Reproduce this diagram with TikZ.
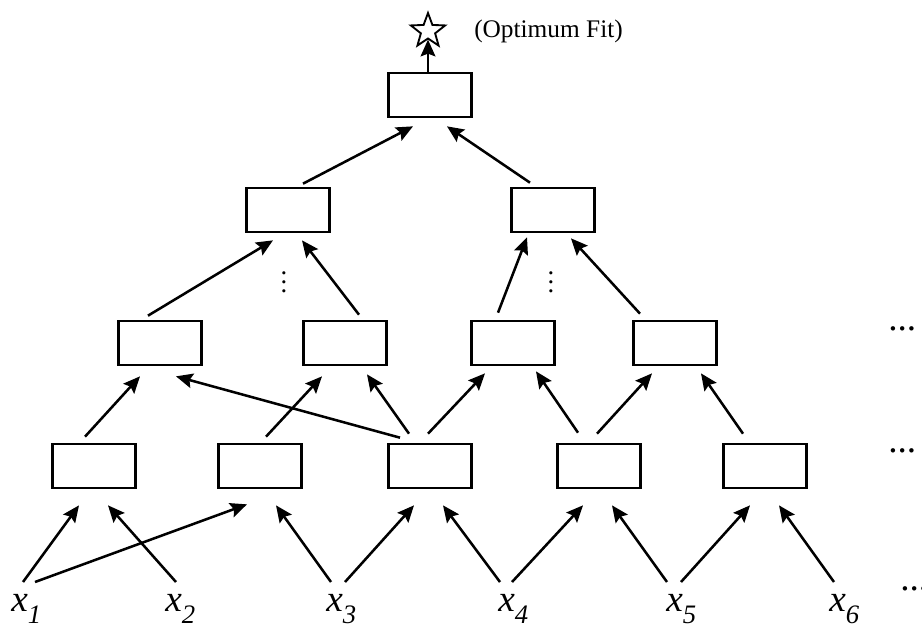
\documentclass[tikz,border=0pt]{standalone}
\usepackage{fontspec}
\setmainfont{Liberation Serif}
\usetikzlibrary{arrows.meta,calc,shapes.geometric}

\newcommand{\xin}[1]{\textit{x}\raisebox{-9pt}{\fontsize{20}{20}\selectfont\textit{#1}}}

\begin{document}
\begin{tikzpicture}[
    x=0.75pt, y=-0.75pt,
    box/.style={rectangle, draw, line width=2pt, minimum width=62pt, minimum height=33pt},
    arrow/.style={-{Stealth[length=12.5pt, width=11pt, inset=2pt]}, line width=1.9pt},
    invar/.style={anchor=base west, inner sep=0pt, font=\fontsize{28}{30}\selectfont},
    hdots/.style={anchor=base west, inner sep=0pt, font=\fontsize{28}{30}\selectfont},
    vdots/.style={inner sep=0pt, align=center, font=\fontsize{20}{6.75}\selectfont}
]
\useasboundingbox (0,0) rectangle (922,626);

% boxes
\node[box] (top) at (430,95) {};
\node[box] (b21) at (288,210) {};
\node[box] (b22) at (553,210) {};
\node[box] (b31) at (160,343) {};
\node[box] (b32) at (345,343) {};
\node[box] (b33) at (513,343) {};
\node[box] (b34) at (675,343) {};
\node[box] (b41) at (94,466) {};
\node[box] (b42) at (260,466) {};
\node[box] (b43) at (430,466) {};
\node[box] (b44) at (599,466) {};
\node[box] (b45) at (765,466) {};

% inputs
\node[invar] (x1) at (11,611) {\xin{1}};
\node[invar] (x2) at (165,611) {\xin{2}};
\node[invar] (x3) at (326,611) {\xin{3}};
\node[invar] (x4) at (498,611) {\xin{4}};
\node[invar] (x5) at (666,611) {\xin{5}};
\node[invar] (x6) at (829,611) {\xin{6}};

% optimum
\node[star, star points=5, star point ratio=2.4, draw, line width=1.4pt, minimum size=27pt, inner sep=0pt] (star) at (428,31) {};
\node[anchor=base west, inner sep=0pt, font=\fontsize{19}{22}\selectfont] (fit) at (474,37) {(Optimum Fit)};

% dots
\node[vdots] (vd1) at (284,282) {.\\.\\.};
\node[vdots] (vd2) at (551,282) {.\\.\\.};
\node[hdots] (hd1) at (888,330) {...};
\node[hdots] (hd2) at (888,452) {...};
\node[hdots] (hd3) at (900,590) {...};

% inputs to first layer
\draw[arrow] ($(x1.base west)+(12,-29)$) -- ($(b41.south)+(-15,16)$);
\draw[arrow] ($(x2.base west)+(11,-29)$) -- ($(b41.south)+(14,16)$);
\draw[arrow] ($(x1.base west)+(24,-29)$) -- ($(b42.south)+(-13,15)$);
\draw[arrow] ($(x3.base west)+(5,-29)$) -- ($(b42.south)+(16,16)$);
\draw[arrow] ($(x3.base west)+(19,-29)$) -- ($(b43.south)+(-16,16)$);
\draw[arrow] ($(x4.base west)+(2,-29)$) -- ($(b43.south)+(13,16)$);
\draw[arrow] ($(x4.base west)+(14,-29)$) -- ($(b44.south)+(-16,16)$);
\draw[arrow] ($(x5.base west)+(1,-29)$) -- ($(b44.south)+(13,16)$);
\draw[arrow] ($(x5.base west)+(15,-29)$) -- ($(b45.south)+(-15,16)$);
\draw[arrow] ($(x6.base west)+(5,-29)$) -- ($(b45.south)+(14,16)$);

% first layer to second
\draw[arrow] ($(b41.north)+(-9,-6)$) -- ($(b31.south)+(-20,10)$);
\draw[arrow] ($(b42.north)+(6,-6)$) -- ($(b32.south)+(-23,10)$);
\draw[arrow] ($(b43.north)+(-30,-5)$) -- ($(b31.south)+(16,10)$);
\draw[arrow] ($(b43.north)+(-21,-9)$) -- ($(b32.south)+(22,8)$);
\draw[arrow] ($(b43.north)+(-2,-9)$) -- ($(b33.south)+(-28,7)$);
\draw[arrow] ($(b44.north)+(-21,-10)$) -- ($(b33.south)+(23,5)$);
\draw[arrow] ($(b44.north)+(-2,-9)$) -- ($(b34.south)+(-23,7)$);
\draw[arrow] ($(b45.north)+(-22,-9)$) -- ($(b34.south)+(26,7)$);

% second layer to third
\draw[arrow] ($(b31.north)+(-12,-4)$) -- ($(b21.south)+(-15,7)$);
\draw[arrow] ($(b32.north)+(14,-5)$) -- ($(b21.south)+(14,7)$);
\draw[arrow] ($(b33.north)+(-15,-7)$) -- ($(b22.south)+(-26,4)$);
\draw[arrow] ($(b34.north)+(-35,-6)$) -- ($(b22.south)+(18,5)$);

% third layer to top
\draw[arrow] ($(b21.north)+(15,-3)$) -- ($(top.south)+(-17,8)$);
\draw[arrow] ($(b22.north)+(-23,-4)$) -- ($(top.south)+(17,8)$);
\draw[arrow] ($(top.north)+(-2,0)$) -- (star.south);
\end{tikzpicture}
\end{document}
